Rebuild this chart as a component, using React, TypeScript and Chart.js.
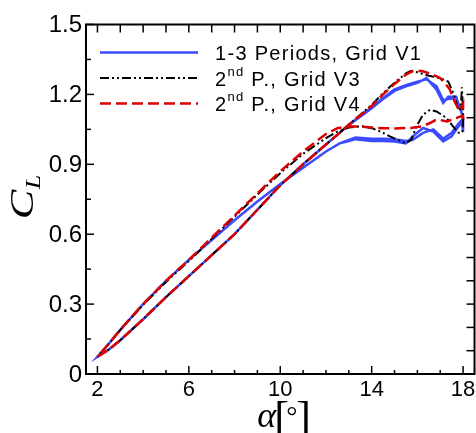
import React, { useEffect, useRef } from 'react';
import { Chart, registerables } from 'chart.js';
Chart.register(...registerables);

// ---------- axis ticks ----------
const X_MAJOR_TICKS = [2, 6, 10, 14, 18];
const X_MINOR_TICKS = [3, 4, 5, 7, 8, 9, 11, 12, 13, 15, 16, 17];
const X_TOP_TICKS = [2, 3, 4, 5, 6, 7, 8, 9, 10, 11, 12, 13, 14, 15, 16, 17, 18];
const Y_MAJOR_TICKS = [0, 0.3, 0.6, 0.9, 1.2, 1.5];
const Y_TICK_LABELS = ['0', '0.3', '0.6', '0.9', '1.2', '1.5'];
const Y_MINOR_TICKS = [0.15, 0.45, 0.75, 1.05, 1.35];
const Y_RIGHT_TICKS = [0.1, 0.2, 0.3, 0.4, 0.5, 0.6, 0.7, 0.8, 0.9, 1.0, 1.1, 1.2, 1.3, 1.4];

// ---------- Grid V4 (red dashed), 2nd period ----------
const alphaV4Up = [2, 2.5, 3, 4, 5, 6, 7, 8, 9, 10, 11, 12, 12.6, 13, 14, 14.5, 15, 15.5, 15.8, 16.2, 16.6, 17, 17.4, 17.65, 17.85, 18];
const clV4Up = [0.074, 0.105, 0.145, 0.235, 0.33, 0.42, 0.51, 0.6, 0.705, 0.81, 0.9, 0.985, 1.035, 1.07, 1.15, 1.2, 1.245, 1.285, 1.3, 1.3, 1.288, 1.27, 1.225, 1.165, 1.13, 1.16];
const alphaV4Down = [18, 17.9, 17.6, 17.3, 17, 16.8, 16.5, 16.2, 15.7, 15, 14.5, 14, 13.5, 13, 12.5, 12, 11, 10, 9, 8, 7, 6, 5, 4, 3, 2.5, 2];
const clV4Down = [1.1, 1.106, 1.095, 1.084, 1.09, 1.09, 1.075, 1.063, 1.056, 1.054, 1.055, 1.058, 1.062, 1.063, 1.055, 1.03, 0.955, 0.87, 0.775, 0.68, 0.585, 0.49, 0.4, 0.3, 0.19, 0.13, 0.074];

// ---------- Grid V3 (black dash-dot-dot), 2nd period ----------
const alphaV3Up = [2, 2.5, 3, 4, 5, 6, 7, 8, 9, 10, 11, 12, 12.6, 13, 14, 14.5, 15, 15.5, 15.7, 16, 16.5, 17, 17.35, 17.6, 17.8, 17.9, 17.95, 18];
const clV3Up = [0.074, 0.105, 0.145, 0.235, 0.33, 0.42, 0.51, 0.6, 0.705, 0.81, 0.9, 0.985, 1.035, 1.07, 1.155, 1.205, 1.25, 1.29, 1.3, 1.295, 1.28, 1.27, 1.255, 1.2, 1.13, 1.14, 1.23, 1.12];
const alphaV3Down = [18, 17.95, 17.8, 17.56, 17.27, 16.84, 16.55, 16.25, 15.96, 15.74, 15.5, 15.1, 14.8, 14.4, 14, 13.6, 13, 12.5, 12, 11, 10, 9, 8, 7, 6, 5, 4, 3, 2.5, 2];
const clV3Down = [1.05, 1.035, 1.035, 1.063, 1.099, 1.127, 1.134, 1.113, 1.063, 1.006, 0.99, 1.006, 1.02, 1.04, 1.055, 1.063, 1.058, 1.04, 1.012, 0.945, 0.862, 0.77, 0.675, 0.58, 0.485, 0.395, 0.297, 0.188, 0.13, 0.074];

// ---------- Grid V1 (blue solid), periods 1-3 ----------
const alphaV1Up = [2, 2.5, 3, 4, 5, 6, 7, 8, 9, 10, 11, 12, 12.6, 13, 14, 14.5, 15, 15.5, 16, 16.4, 16.84, 17.13, 17.35, 17.7, 17.8, 17.9, 18];
const clV1UpA = [0.074, 0.105, 0.145, 0.235, 0.33, 0.42, 0.51, 0.6, 0.705, 0.81, 0.9, 0.985, 1.035, 1.068, 1.14, 1.18, 1.215, 1.235, 1.25, 1.27, 1.22, 1.163, 1.19, 1.19, 1.15, 1.13, 1.1];
const clV1UpB = [0.074, 0.105, 0.145, 0.235, 0.33, 0.42, 0.51, 0.6, 0.705, 0.81, 0.9, 0.985, 1.035, 1.07, 1.145, 1.185, 1.222, 1.24, 1.255, 1.265, 1.235, 1.175, 1.18, 1.185, 1.16, 1.14, 1.09];
const alphaV1Down = [18, 17.95, 17.8, 17.5, 17.13, 16.7, 16.25, 15.8, 15.5, 15, 14.5, 14, 13.3, 13, 12.6, 12, 11, 10, 9, 8, 7, 6, 5, 4, 3, 2.5, 2];
const clV1DownA = [1.04, 1.08, 1.063, 1.02, 0.998, 1.04, 1.056, 1.02, 0.99, 0.998, 1.0, 1.0, 1.008, 1.0, 0.99, 0.955, 0.885, 0.815, 0.74, 0.66, 0.575, 0.49, 0.4, 0.3, 0.19, 0.13, 0.074];
const clV1DownB = [1.05, 1.09, 1.075, 1.035, 1.01, 1.05, 1.035, 1.005, 1.0, 1.008, 1.01, 1.01, 1.015, 1.005, 0.99, 0.955, 0.885, 0.815, 0.74, 0.66, 0.575, 0.49, 0.4, 0.3, 0.19, 0.13, 0.074];

// ---------- legend ----------
const LEGEND_MAIN = ['1-3 Periods, Grid V1', '2', '2'];
const LEGEND_SUP = ['', 'nd', 'nd'];
const LEGEND_REST = ['', ' P., Grid V3', ' P., Grid V4'];

const BLUE = '#3b4cff';
const BLACK = '#000000';
const RED = '#dc0000';
const DASH_V3 = [9, 3, 2, 3, 2, 3];
const DASH_V4 = [11, 5];

const SANS = '"Liberation Sans", Arial, Helvetica, sans-serif';
const SERIF = '"Liberation Serif", "Times New Roman", "DejaVu Serif", serif';

function pts(a: number[], c: number[]) {
  return a.map((x, i) => ({ x, y: c[i] }));
}

const framePlugin = {
  id: 'framePlugin',
  afterDatasetsDraw(chart: any) {
    const { ctx, chartArea: a, scales } = chart;
    const xs = scales.x;
    const ys = scales.y;
    const seg = (x1: number, y1: number, x2: number, y2: number) => {
      ctx.beginPath();
      ctx.moveTo(x1, y1);
      ctx.lineTo(x2, y2);
      ctx.stroke();
    };
    ctx.save();
    ctx.strokeStyle = '#000';
    ctx.lineWidth = 1.5;
    ctx.setLineDash([]);
    X_MAJOR_TICKS.forEach((v) => { const p = xs.getPixelForValue(v); seg(p, a.bottom, p, a.bottom - 8); });
    X_MINOR_TICKS.forEach((v) => { const p = xs.getPixelForValue(v); seg(p, a.bottom, p, a.bottom - 4); });
    X_TOP_TICKS.forEach((v) => { const p = xs.getPixelForValue(v); seg(p, a.top, p, a.top + 8); });
    Y_MAJOR_TICKS.forEach((v) => { const p = ys.getPixelForValue(v); seg(a.left, p, a.left + 8, p); });
    Y_MINOR_TICKS.forEach((v) => { const p = ys.getPixelForValue(v); seg(a.left, p, a.left + 5, p); });
    Y_RIGHT_TICKS.forEach((v) => { const p = ys.getPixelForValue(v); seg(a.right, p, a.right - 8, p); });
    ctx.lineWidth = 2;
    ctx.strokeRect(a.left, a.top, a.right - a.left, a.bottom - a.top);

    // tick labels
    ctx.fillStyle = '#000';
    ctx.font = `24px ${SANS}`;
    ctx.textAlign = 'right';
    ctx.textBaseline = 'middle';
    Y_MAJOR_TICKS.forEach((v, i) => {
      ctx.fillText(Y_TICK_LABELS[i], a.left - 4, ys.getPixelForValue(v) + 1);
    });
    ctx.font = `22px ${SANS}`;
    ctx.textAlign = 'center';
    ctx.textBaseline = 'alphabetic';
    X_MAJOR_TICKS.forEach((v) => {
      ctx.fillText(String(v), xs.getPixelForValue(v), a.bottom + 22);
    });

    // x axis title: alpha [deg]
    const cx = (a.left + a.right) / 2;
    ctx.textAlign = 'left';
    ctx.font = `italic 36px ${SERIF}`;
    ctx.fillText('α', cx - 23, 427);
    ctx.font = `44px ${SERIF}`;
    ctx.fillText('[', cx - 6, 432);
    ctx.fillText(']', cx + 16, 432);
    ctx.font = `28px ${SERIF}`;
    ctx.fillText('°', cx + 6, 425);

    // y axis title: C_L (rotated)
    const cy = (a.top + a.bottom) / 2;
    ctx.save();
    ctx.translate(33, cy + 20);
    ctx.rotate(-Math.PI / 2);
    ctx.scale(1.3, 1);
    ctx.font = `italic 34px ${SERIF}`;
    ctx.fillText('C', 0, 0);
    ctx.font = `italic 20px ${SERIF}`;
    ctx.fillText('L', 23, 7);
    ctx.restore();

    // legend
    const colors = [BLUE, BLACK, RED];
    const dashes = [[], DASH_V3, DASH_V4];
    const widths = [2.5, 2, 2.5];
    const l1 = a.left + 14;
    const l2 = a.left + 112;
    const tx = a.left + 129;
    const baselines = [a.top + 35.5, a.top + 61, a.top + 86.5];
    for (let i = 0; i < 3; i++) {
      const yb = baselines[i];
      ctx.strokeStyle = colors[i];
      ctx.lineWidth = widths[i];
      ctx.setLineDash(dashes[i]);
      seg(l1, yb - 7.5, l2, yb - 7.5);
      ctx.setLineDash([]);
      ctx.fillStyle = '#000';
      ctx.font = `20px ${SANS}`;
      (ctx as any).letterSpacing = '1.3px';
      ctx.fillText(LEGEND_MAIN[i], tx, yb);
      let w = ctx.measureText(LEGEND_MAIN[i]).width;
      if (LEGEND_SUP[i]) {
        ctx.font = `13px ${SANS}`;
        ctx.fillText(LEGEND_SUP[i], tx + w, yb - 10);
        w += ctx.measureText(LEGEND_SUP[i]).width;
        ctx.font = `20px ${SANS}`;
        ctx.fillText(LEGEND_REST[i], tx + w, yb);
      }
      (ctx as any).letterSpacing = '0px';
    }
    ctx.restore();
  },
};

export default function App() {
  const ref = useRef<HTMLCanvasElement>(null);
  useEffect(() => {
    const canvas = ref.current;
    if (!canvas) return;
    const blue = [
      ...pts(alphaV1Up, clV1UpA),
      ...pts(alphaV1Down, clV1DownA),
      ...pts(alphaV1Up, clV1UpB),
      ...pts(alphaV1Down, clV1DownB),
    ];
    const black = [...pts(alphaV3Up, clV3Up), ...pts(alphaV3Down, clV3Down)];
    const red = [...pts(alphaV4Up, clV4Up), ...pts(alphaV4Down, clV4Down)];
    const chart = new Chart(canvas, {
      type: 'scatter',
      data: {
        datasets: [
          { label: '2nd P., Grid V4', data: red, showLine: true, borderColor: RED, borderWidth: 2.5, borderDash: DASH_V4, pointRadius: 0, tension: 0, order: 0 },
          { label: '2nd P., Grid V3', data: black, showLine: true, borderColor: BLACK, borderWidth: 2, borderDash: DASH_V3, pointRadius: 0, tension: 0, order: 1 },
          { label: '1-3 Periods, Grid V1', data: blue, showLine: true, borderColor: BLUE, borderWidth: 2.5, pointRadius: 0, tension: 0, order: 2 },
        ],
      },
      options: {
        animation: false,
        responsive: false,
        layout: { padding: { left: 86, top: 24.5, right: 1.5, bottom: 59 } },
        plugins: { legend: { display: false }, tooltip: { enabled: false } },
        scales: {
          x: { type: 'linear', min: 1.5, max: 18.5, display: false },
          y: { type: 'linear', min: 0, max: 1.5, display: false },
        },
      },
      plugins: [framePlugin],
    });
    return () => chart.destroy();
  }, []);
  return (
    <div style={{ position: 'fixed', left: 0, top: 0, width: 476, height: 433, background: '#fff' }}>
      <canvas ref={ref} width={476} height={433} style={{ display: 'block', width: 476, height: 433 }} />
    </div>
  );
}
